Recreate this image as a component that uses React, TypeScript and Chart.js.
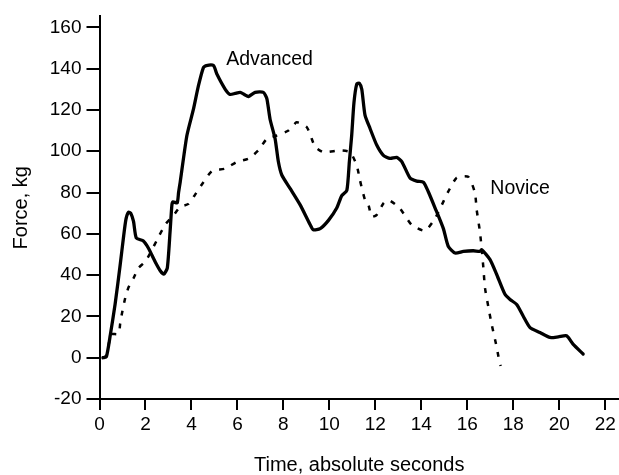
import React, { useEffect, useRef } from "react";
import { Chart, registerables } from "chart.js";

Chart.register(...registerables);

// Advanced trace (solid)
const advancedX = [0.15, 0.3, 0.47, 0.68, 0.9, 1.04, 1.15, 1.26, 1.36, 1.48, 1.6, 1.91, 2.13, 2.42, 2.65, 2.8, 2.95, 3.07, 3.15, 3.2, 3.38, 3.44, 3.51, 3.8, 4.09, 4.3, 4.52, 4.65, 4.96, 5.1, 5.47, 5.68, 5.9, 6.12, 6.3, 6.48, 6.77, 7.13, 7.28, 7.42, 7.64, 7.78, 7.93, 8.29, 8.73, 9.16, 9.3, 9.6, 9.96, 10.32, 10.54, 10.76, 10.87, 10.97, 11.07, 11.19, 11.3, 11.41, 11.55, 11.77, 12.06, 12.35, 12.64, 12.93, 13.15, 13.51, 13.8, 14.09, 14.3, 14.6, 14.96, 15.17, 15.47, 15.83, 16.26, 16.55, 16.63, 16.99, 17.28, 17.64, 17.86, 18.15, 18.43, 18.73, 19.16, 19.6, 19.96, 20.32, 20.6, 21.04];
const advancedY = [0, 0.5, 11, 26, 45, 58, 67, 70.5, 70, 66, 58, 56.5, 53, 46.5, 42, 40.5, 43.5, 61, 74, 75.5, 75, 80, 85, 107.5, 120.5, 131.5, 140.5, 141.5, 141.5, 137.5, 130, 127.5, 128, 128.5, 127.5, 126.5, 128.5, 128.5, 125.5, 115.5, 106, 95, 88.5, 82, 74, 64.5, 62, 62.5, 66.5, 72.5, 78.5, 81, 95, 107.5, 123.5, 132.5, 133, 130, 117.5, 111, 103, 98, 96.5, 97, 95, 87, 85.5, 85, 80.5, 72.5, 62.5, 54, 50.7, 51.5, 51.8, 51.5, 52.3, 47.5, 40.3, 30.7, 28.2, 25.8, 20.2, 14.6, 12.2, 9.8, 10.1, 10.6, 6.6, 1.8];

// Novice trace (dashed)
const noviceX = [0.15, 0.3, 0.47, 0.54, 0.83, 0.9, 0.97, 1.12, 1.26, 1.48, 1.7, 1.99, 2.2, 2.5, 2.86, 3.22, 3.51, 3.87, 4.16, 4.52, 4.89, 5.47, 5.97, 6.48, 6.91, 7.28, 7.71, 8.22, 8.58, 9.02, 9.3, 9.38, 9.74, 10.47, 10.9, 11.19, 11.33, 11.55, 11.7, 11.84, 12.06, 12.35, 12.57, 13.07, 13.58, 14.16, 14.6, 14.96, 15.17, 15.54, 16.04, 16.33, 16.41, 16.55, 16.63, 16.7, 16.77, 16.91, 17.06, 17.25, 17.39, 17.45];
const noviceY = [0, 1, 10.5, 11.5, 11.5, 16.5, 21, 29, 34, 38.5, 43.5, 46.5, 50.5, 57, 64.5, 69, 73, 74.5, 79, 85, 90.3, 91.6, 94.8, 96.4, 100.4, 106, 107.6, 110, 114, 111.6, 104, 102, 99.5, 100.4, 99.6, 93.2, 86, 76.4, 74, 68.3, 69.2, 74.7, 76.4, 72.3, 64.3, 61.5, 67.5, 75.6, 80.4, 87.2, 87.6, 80, 71.5, 61, 52.3, 43.5, 33.8, 25, 16.2, 6.6, -1.4, -4];

// Axis tick values
const xTicks = [0, 2, 4, 6, 8, 10, 12, 14, 16, 18, 20, 22];
const yTicks = [-20, 0, 20, 40, 60, 80, 100, 120, 140, 160];

// Curve labels and their anchor (data coords)
const labelTexts = ["Advanced", "Novice"];
const labelX = [7.4, 18.3];
const labelY = [144.5, 82];

const FONT = "'Liberation Sans', Arial, sans-serif";

export default function App() {
  const ref = useRef<HTMLCanvasElement>(null);
  useEffect(() => {
    if (!ref.current) return;
    const toPts = (xs: number[], ys: number[]) => xs.map((x, i) => ({ x, y: ys[i] }));
    const labelPlugin = {
      id: "curveLabels",
      afterDatasetsDraw(chart: any) {
        const { ctx, scales } = chart;
        ctx.save();
        ctx.fillStyle = "#000";
        ctx.font = `19.5px ${FONT}`;
        ctx.textAlign = "center";
        ctx.textBaseline = "middle";
        labelTexts.forEach((t, i) => {
          ctx.fillText(t, scales.x.getPixelForValue(labelX[i]), scales.y.getPixelForValue(labelY[i]));
        });
        ctx.restore();
      },
    };
    const chart = new Chart(ref.current, {
      type: "line",
      data: {
        datasets: [
          {
            label: "Advanced",
            data: toPts(advancedX, advancedY),
            borderColor: "#000",
            borderWidth: 3.3,
            pointRadius: 0,
            tension: 0.2,
            borderJoinStyle: "round",
            borderCapStyle: "round",
          },
          {
            label: "Novice",
            data: toPts(noviceX, noviceY),
            borderColor: "#000",
            borderWidth: 2.5,
            borderDash: [5, 8],
            pointRadius: 0,
            tension: 0.2,
          },
        ],
      },
      options: {
        animation: false,
        responsive: false,
        devicePixelRatio: 1,
        layout: { padding: { top: 14, right: 0, left: 0, bottom: 0 } },
        plugins: { legend: { display: false }, tooltip: { enabled: false } },
        scales: {
          x: {
            type: "linear",
            min: 0,
            max: 22.6,
            afterBuildTicks: (s: any) => {
              s.ticks = xTicks.map((v) => ({ value: v }));
            },
            afterFit: (s: any) => {
              s.height = 76;
            },
            ticks: { color: "#000", font: { family: FONT, size: 19 }, padding: 3, maxRotation: 0, autoSkip: false },
            grid: { drawOnChartArea: false, drawTicks: true, tickLength: 11, color: "#000", lineWidth: 2 },
            border: { display: true, color: "#000", width: 2 },
            title: { display: true, text: "Time, absolute seconds", color: "#000", font: { family: FONT, size: 20, lineHeight: 1.0 }, padding: { top: 0, bottom: 0 } },
          },
          y: {
            type: "linear",
            min: -20,
            max: 165.3,
            afterBuildTicks: (s: any) => {
              s.ticks = yTicks.map((v) => ({ value: v }));
            },
            afterFit: (s: any) => {
              s.width = 99.5;
            },
            ticks: { color: "#000", font: { family: FONT, size: 19 }, padding: 5, autoSkip: false },
            grid: { drawOnChartArea: false, drawTicks: true, tickLength: 13, color: "#000", lineWidth: 2 },
            border: { display: true, color: "#000", width: 2 },
            title: { display: true, text: "Force, kg", color: "#000", font: { family: FONT, size: 20 }, padding: { top: 9, bottom: 0 } },
          },
        },
      },
      plugins: [labelPlugin],
    });
    return () => chart.destroy();
  }, []);
  return (
    <div style={{ position: "absolute", left: 0, top: 0, width: 619, height: 475, background: "#fff" }}>
      <canvas ref={ref} width={619} height={475} />
    </div>
  );
}
